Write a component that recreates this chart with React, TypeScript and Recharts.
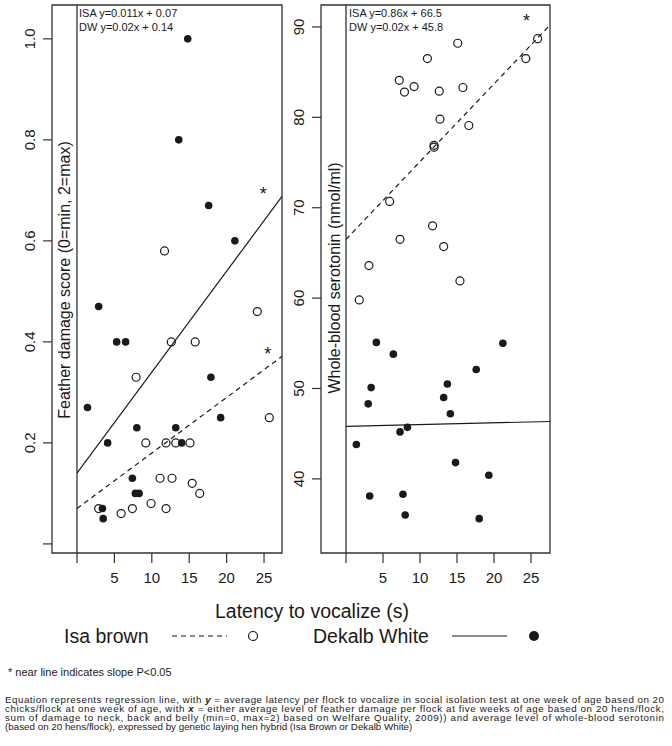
import { ReferenceArea, ReferenceLine, Scatter, ScatterChart, XAxis, YAxis } from "recharts"

// latency to vocalize (s) vs feather damage score, one point per flock
const isaFeather: [number, number][] = [
  [11.7, 0.58], [12.6, 0.4], [15.8, 0.4], [24.1, 0.46], [7.9, 0.33], [25.7, 0.25],
  [9.2, 0.2], [11.9, 0.2], [13.2, 0.2], [15.1, 0.2], [11.1, 0.13], [12.7, 0.13],
  [15.4, 0.12], [16.4, 0.1], [2.9, 0.07], [5.9, 0.06], [7.4, 0.07], [9.9, 0.08], [11.9, 0.07],
]
const dwFeather: [number, number][] = [
  [14.8, 1.0], [13.6, 0.8], [17.6, 0.67], [21.1, 0.6], [2.9, 0.47], [5.3, 0.4], [6.5, 0.4],
  [17.9, 0.33], [1.4, 0.27], [8.0, 0.23], [13.2, 0.23], [19.2, 0.25], [4.1, 0.2], [14.0, 0.2],
  [7.4, 0.13], [7.8, 0.1], [8.3, 0.1], [3.4, 0.07], [3.5, 0.05],
]

// latency to vocalize (s) vs whole-blood serotonin
const isaSerotonin: [number, number][] = [
  [15.1, 88.2], [25.9, 88.7], [24.3, 86.5], [11.0, 86.5], [7.2, 84.1], [7.9, 82.8], [9.2, 83.4],
  [12.6, 82.9], [15.8, 83.3], [12.7, 79.8], [16.6, 79.1], [11.9, 76.9], [11.9, 76.7], [5.9, 70.7],
  [11.7, 68.0], [7.3, 66.5], [13.2, 65.7], [3.1, 63.6], [15.4, 61.9], [1.8, 59.8],
]
const dwSerotonin: [number, number][] = [
  [4.1, 55.1], [21.2, 55.0], [6.4, 53.8], [17.6, 52.1], [3.4, 50.1], [13.7, 50.5], [13.2, 49.0],
  [3.0, 48.3], [14.1, 47.2], [8.3, 45.7], [7.3, 45.2], [1.4, 43.8], [14.8, 41.8], [19.3, 40.4],
  [3.2, 38.1], [7.7, 38.3], [8.0, 36.0], [18.0, 35.6],
]

// regression lines [slope, intercept]
const featherFitIsa = [0.011, 0.07]
const featherFitDw = [0.02, 0.14]
const serotoninFitIsa = [0.86, 66.5]
const serotoninFitDw = [0.02, 45.8]

// "*" markers (slope P<0.05)
const featherSig: [number, number][] = [[24.9, 0.7], [25.5, 0.384]]
const serotoninSig: [number, number][] = [[24.4, 91.1]]

const xTicks = [0, 5, 10, 15, 20, 25]
const featherTicks = [0, 0.2, 0.4, 0.6, 0.8, 1.0]
const serotoninTicks = [40, 50, 60, 70, 80, 90]

const paragraph = [
  "chicks/flock at one week of age, with ",
  "sum of damage to neck, back and belly (min=0, max=2) based on Welfare Quality, 2009)) and average level of whole-blood serotonin",
  "(based on 20 hens/flock), expressed by genetic laying hen hybrid (Isa Brown or Dekalb White)",
]

const ink = "#1a1a1a"

const toPts = (arr: [number, number][]) => arr.map(([x, y]) => ({ x, y }))

const openDot = (p: any) => <circle cx={p.cx} cy={p.cy} r={4} fill="none" stroke={ink} strokeWidth={1.2} />
const fullDot = (p: any) => <circle cx={p.cx} cy={p.cy} r={3.8} fill={ink} />
const star = (p: any) => (
  <text x={p.cx} y={p.cy} dy={10} textAnchor="middle" fontSize={18} fill={ink}>*</text>
)

function XTick(p: any) {
  if (p.payload.value === 0) return <g />
  return (
    <text x={p.x} y={p.y} dy={18} textAnchor="middle" fontSize={15} fill={ink}>
      {p.payload.value}
    </text>
  )
}

function Panel(props: {
  left: number
  isa: [number, number][]
  dw: [number, number][]
  fitIsa: number[]
  fitDw: number[]
  sig: [number, number][]
  xDomain: [number, number]
  yDomain: [number, number]
  yTicks: number[]
  fmt: (v: number) => string
  hideZero: boolean
}) {
  const { isa, dw, fitIsa, fitDw, sig, xDomain, yDomain } = props
  const xEnd = xDomain[1]
  const YTick = (p: any) => {
    const v = p.payload.value
    if (props.hideZero && v === 0) return <g />
    const tx = p.x - 5.5
    return (
      <text x={tx} y={p.y} transform={`rotate(-90 ${tx} ${p.y})`} textAnchor="middle" fontSize={15} fill={ink}>
        {props.fmt(v)}
      </text>
    )
  }
  return (
    <div style={{ position: "absolute", left: props.left, top: 0 }}>
      <ScatterChart width={300} height={600} margin={{ top: 5, right: props.left ? 19 : 18, bottom: 0, left: 0 }}>
        <XAxis
          type="number"
          dataKey="x"
          domain={xDomain}
          ticks={xTicks}
          allowDataOverflow
          axisLine={false}
          tickSize={10}
          tickLine={{ stroke: "#333", strokeWidth: 1.2 }}
          tick={XTick}
          height={47}
          interval={0}
        />
        <YAxis
          type="number"
          dataKey="y"
          domain={yDomain}
          ticks={props.yTicks}
          allowDataOverflow
          axisLine={false}
          tickSize={9}
          tickLine={{ stroke: "#333", strokeWidth: 1.2 }}
          tick={YTick}
          width={52}
          interval={0}
        />
        <ReferenceArea
          x1={xDomain[0]}
          x2={xDomain[1]}
          y1={yDomain[0]}
          y2={yDomain[1]}
          fill="none"
          stroke="#333"
          strokeWidth={1.3}
          ifOverflow="visible"
        />
        <ReferenceLine x={0} stroke="#333" strokeWidth={1.3} />
        <ReferenceLine
          segment={[{ x: 0, y: fitIsa[1] }, { x: xEnd, y: fitIsa[0] * xEnd + fitIsa[1] }]}
          stroke={ink}
          strokeWidth={1.2}
          strokeDasharray="5 4"
          ifOverflow="visible"
        />
        <ReferenceLine
          segment={[{ x: 0, y: fitDw[1] }, { x: xEnd, y: fitDw[0] * xEnd + fitDw[1] }]}
          stroke={ink}
          strokeWidth={1.2}
          ifOverflow="visible"
        />
        <Scatter data={toPts(isa)} shape={openDot} isAnimationActive={false} />
        <Scatter data={toPts(dw)} shape={fullDot} isAnimationActive={false} />
        <Scatter data={toPts(sig)} shape={star} isAnimationActive={false} />
      </ScatterChart>
    </div>
  )
}

export default function App() {
  return (
    <div
      style={{
        position: "absolute",
        left: 0,
        top: 0,
        width: 672,
        height: 746,
        background: "#fff",
        fontFamily: "'Liberation Sans', Arial, sans-serif",
        color: ink,
      }}
    >
      <Panel
        left={0}
        isa={isaFeather}
        dw={dwFeather}
        fitIsa={featherFitIsa}
        fitDw={featherFitDw}
        sig={featherSig}
        xDomain={[-3.34, 27.4]}
        yDomain={[-0.018, 1.067]}
        yTicks={featherTicks}
        fmt={(v) => v.toFixed(1)}
        hideZero
      />
      <Panel
        left={269}
        isa={isaSerotonin}
        dw={dwSerotonin}
        fitIsa={serotoninFitIsa}
        fitDw={serotoninFitDw}
        sig={serotoninSig}
        xDomain={[-3.38, 27.57]}
        yDomain={[31.8, 92.43]}
        yTicks={serotoninTicks}
        fmt={(v) => String(v)}
        hideZero={false}
      />
      <svg width={672} height={746} style={{ position: "absolute", left: 0, top: 0, pointerEvents: "none" }}>
        <g fill={ink}>
          <text x={70} y={280} transform="rotate(-90 70 280)" textAnchor="middle" fontSize={16}>
            Feather damage score (0=min, 2=max)
          </text>
          <text x={340} y={278} transform="rotate(-90 340 278)" textAnchor="middle" fontSize={16}>
            Whole-blood serotonin (nmol/ml)
          </text>
          <text x={79} y={17} fontSize={11}>ISA y=0.011x + 0.07</text>
          <text x={79} y={31} fontSize={11}>DW y=0.02x + 0.14</text>
          <text x={349} y={17} fontSize={11}>ISA y=0.86x + 66.5</text>
          <text x={349} y={31} fontSize={11}>DW y=0.02x + 45.8</text>

          <text x={312} y={618} textAnchor="middle" fontSize={19.5}>Latency to vocalize (s)</text>

          <text x={64} y={643} fontSize={19.5}>Isa brown</text>
          <line x1={172} x2={227} y1={636} y2={636} stroke={ink} strokeWidth={1.2} strokeDasharray="5 4" />
          <circle cx={253} cy={636} r={4.5} fill="none" stroke={ink} strokeWidth={1.2} />
          <text x={313} y={643} fontSize={19.5}>Dekalb White</text>
          <line x1={452} x2={507} y1={636} y2={636} stroke={ink} strokeWidth={1.2} />
          <circle cx={534} cy={636} r={5} fill={ink} />

          <text x={8} y={676} fontSize={11}>* near line indicates slope P&lt;0.05</text>

          <text x={5} y={702.5} fontSize={9.8} textLength={659}>
            Equation represents regression line, with <tspan fontWeight="bold" fontStyle="italic">y</tspan> = average
            latency per flock to vocalize in social isolation test at one week of age based on 20
          </text>
          <text x={5} y={711.5} fontSize={9.8} textLength={659}>
            {paragraph[0]}
            <tspan fontWeight="bold" fontStyle="italic">x</tspan> = either average level of feather damage per flock at
            five weeks of age based on 20 hens/flock,
          </text>
          <text x={5} y={720.5} fontSize={9.8} textLength={659}>
            {paragraph[1]}
          </text>
          <text x={5} y={729.5} fontSize={9.8}>
            {paragraph[2]}
          </text>
        </g>
      </svg>
    </div>
  )
}
